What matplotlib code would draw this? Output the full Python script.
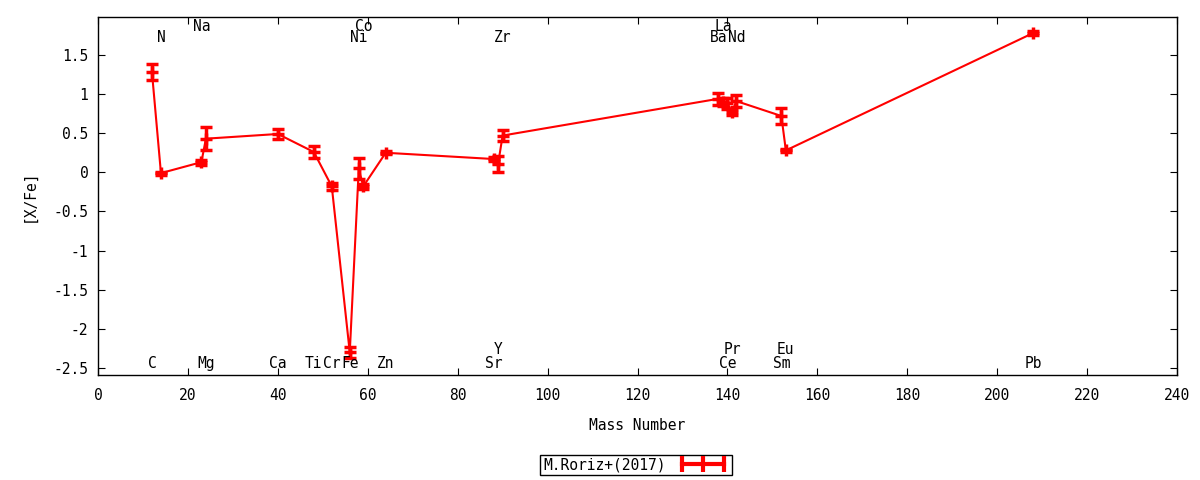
import matplotlib
matplotlib.use("Agg")
import matplotlib.pyplot as plt
from matplotlib.lines import Line2D

# Abundances [X/Fe] against mass number
elements = ['C', 'N', 'Na', 'Mg', 'Ca', 'Ti', 'Cr', 'Fe', 'Ni', 'Co', 'Zn',
            'Sr', 'Y', 'Zr', 'Ba', 'La', 'Ce', 'Pr', 'Nd', 'Sm', 'Eu', 'Pb']
mass = [12, 14, 23, 24, 40, 48, 52, 56, 58, 59, 64,
        88, 89, 90, 138, 139, 140, 141, 142, 152, 153, 208]
x_fe = [1.28, -0.01, 0.13, 0.43, 0.49, 0.26, -0.18, -2.30, 0.05, -0.18, 0.25,
        0.17, 0.11, 0.47, 0.94, 0.90, 0.88, 0.77, 0.91, 0.72, 0.28, 1.78]
x_fe_err = [0.10, 0.02, 0.03, 0.15, 0.06, 0.08, 0.05, 0.07, 0.13, 0.03, 0.02,
            0.03, 0.10, 0.07, 0.08, 0.05, 0.07, 0.04, 0.08, 0.10, 0.02, 0.02]

# which row each element label goes in: 0/1 bottom (low/high), 2/3 top (low/high)
label_row = [0, 2, 3, 0, 0, 0, 0, 0, 2, 3, 0,
             0, 1, 2, 2, 3, 0, 1, 2, 0, 1, 0]
row_y = [-2.44, -2.26, 1.72, 1.86]

font = 'DejaVu Sans Mono'
plt.rcParams['font.family'] = font
plt.rcParams['font.size'] = 10

fig = plt.figure(figsize=(12, 4.8), dpi=100)
ax = fig.add_axes([98 / 1200, 1 - 375 / 480, 1079 / 1200, 358 / 480])

ax.errorbar(mass, x_fe, yerr=x_fe_err, color='#ff0000', lw=1.5,
            elinewidth=2.5, capsize=4, capthick=3,
            marker='+', markersize=8, markeredgewidth=2.5)

for name, m, r in zip(elements, mass, label_row):
    ax.text(m, row_y[r], name, ha='center', va='center', fontsize=10.5, color='black')

ax.set_xlim(0, 240)
ax.set_ylim(-2.59, 1.985)
ax.set_xticks(range(0, 241, 20))
ax.set_yticks([-2.5, -2, -1.5, -1, -0.5, 0, 0.5, 1, 1.5])
ax.set_yticklabels(['-2.5', '-2', '-1.5', '-1', '-0.5', '0', '0.5', '1', '1.5'])
ax.tick_params(direction='in', top=True, right=True, length=5, labelsize=10.5)
ax.tick_params(axis='x', pad=9)
ax.tick_params(axis='y', pad=7)
for s in ax.spines.values():
    s.set_linewidth(1)

ax.set_xlabel('Mass Number', fontsize=10.5, labelpad=11)
ax.set_ylabel('[X/Fe]', fontsize=10.5, labelpad=12)

handle = Line2D([], [], color='#ff0000', lw=3, marker='|', markersize=11,
                markeredgewidth=3)
leg = fig.legend([handle], ['M.Roriz+(2017)'], loc='center', bbox_to_anchor=(636 / 1200, 1 - 465 / 480),
                 numpoints=3, markerfirst=False, fancybox=False, framealpha=1,
                 edgecolor='black', borderpad=0.2, handlelength=3.5, handletextpad=0.8,
                 fontsize=10.5)
leg.get_frame().set_linewidth(1)

fig.savefig('out.png', dpi=100)
